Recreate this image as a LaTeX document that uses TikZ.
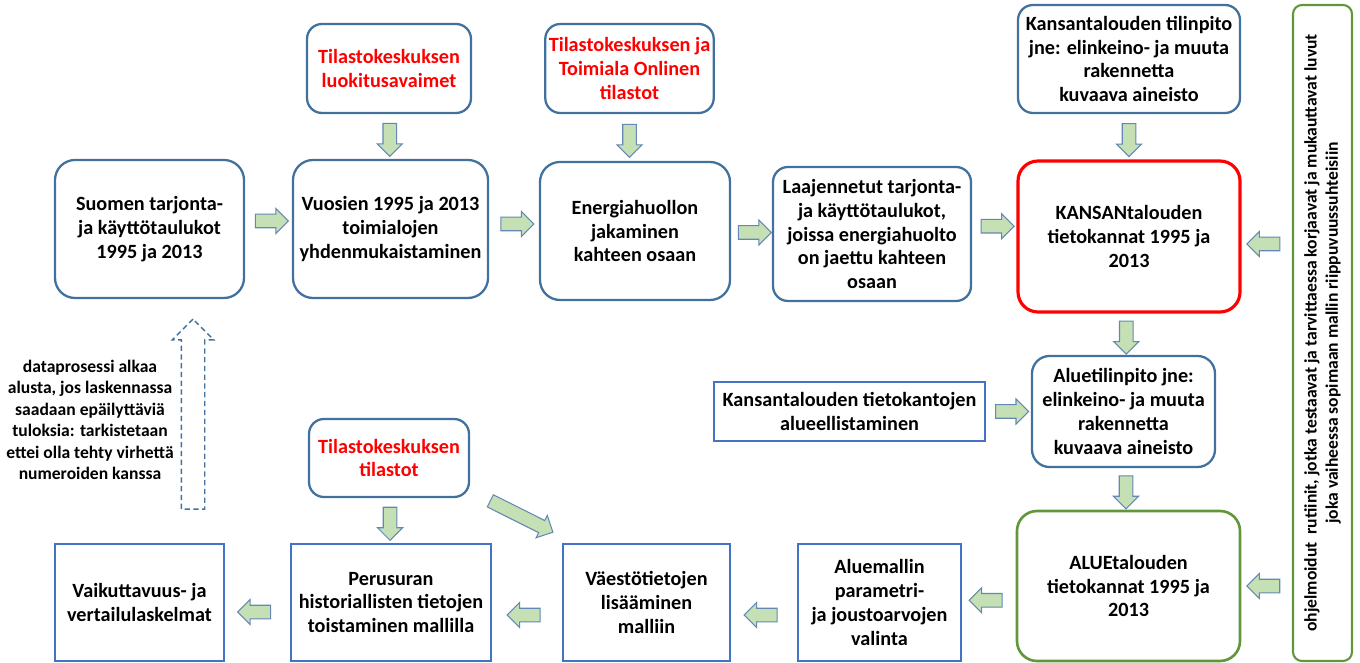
\documentclass[tikz,border=0pt]{standalone}
\usepackage{fontspec}
\setmainfont{Carlito}
\usepackage{tikz}
\usetikzlibrary{positioning, calc, shapes.arrows}
\definecolor{FlowBlue}{RGB}{65,113,156}
\definecolor{CalcBlue}{RGB}{68,114,196}
\definecolor{SrcRed}{RGB}{255,0,0}
\definecolor{RegGreen}{RGB}{98,150,58}
\definecolor{ArrFill}{RGB}{197,224,180}
\definecolor{ArrLine}{RGB}{100,135,180}

\begin{document}
\begin{tikzpicture}[
  every node/.style={font=\bfseries\fontsize{11.5}{13.6}\selectfont},
  flow/.style={draw=FlowBlue, line width=1.3pt, rounded corners=0.4cm, align=center, inner sep=2pt},
  source/.style={flow, rounded corners=0.3cm, text=SrcRed},
  calcbox/.style={draw=CalcBlue, line width=1.6pt, align=center, inner sep=2pt},
  blockarr/.style={single arrow, draw=ArrLine, fill=ArrFill, line width=0.6pt, inner xsep=0pt, inner ysep=0.125cm,
    single arrow head extend=0.115cm, single arrow head indent=0pt, minimum width=0.48cm, minimum height=0.66cm},
  rarr/.style={blockarr},
  larr/.style={blockarr, rotate=180},
  darr/.style={blockarr, rotate=-90}
]
\useasboundingbox (0,0) rectangle (27.2,-13.26);

% Top row: sources
\node[source, minimum width=3.28cm, minimum height=1.78cm] (luok) at (7.78,-1.37) {Tilastokeskuksen\\luokitusavaimet};
\node[source, minimum width=3.34cm, minimum height=1.78cm] (toim) at (12.59,-1.37) {Tilastokeskuksen ja\\Toimiala Onlinen\\tilastot};
\node[flow, rounded corners=0.3cm, minimum width=4.44cm, minimum height=2.16cm] (ktil) at (22.58,-1.18) {Kansantalouden tilinpito\\jne: elinkeino- ja muuta\\rakennetta\\kuvaava aineisto};

% Main row
\node[flow, minimum width=3.78cm, minimum height=2.76cm] (suomen) at (2.99,-4.58) {Suomen tarjonta-\\ja käyttötaulukot\\1995 ja 2013};
\node[flow, minimum width=3.90cm, minimum height=2.76cm] (vuosien) at (7.81,-4.58) {Vuosien 1995 ja 2013\\toimialojen\\yhdenmukaistaminen};
\node[flow, minimum width=3.80cm, minimum height=2.76cm] (energ) at (12.70,-4.62) {Energiahuollon\\jakaminen\\kahteen osaan};
\node[flow, rounded corners=0.3cm, minimum width=3.96cm, minimum height=2.68cm] (laaj) at (17.44,-4.68) {Laajennetut tarjonta-\\ja käyttötaulukot,\\joissa energiahuolto\\on jaettu kahteen\\osaan};
\node[flow, draw=SrcRed, line width=1.8pt, minimum width=4.44cm, minimum height=3.02cm] (kansan) at (22.58,-4.73) {KANSANtalouden\\tietokannat 1995 ja\\2013};

% Right column: checking routines
\node[draw=RegGreen, line width=1.2pt, rounded corners=0.18cm, rotate=90, align=center,
  minimum width=13.12cm, minimum height=1.18cm, font=\bfseries\fontsize{10}{12}\selectfont] (vert) at (26.45,-6.66)
  {ohjelmoidut\ \ rutiinit, jotka testaavat ja tarvittaessa korjaavat ja mukauttavat luvut\\joka vaiheessa sopimaan mallin riippuvuussuhteisiin};

% Regional part
\node[flow, rounded corners=0.35cm, minimum width=3.66cm, minimum height=2.22cm] (aluetil) at (22.47,-8.23) {Aluetilinpito jne:\\elinkeino- ja muuta\\rakennetta\\kuvaava aineisto};
\node[calcbox, minimum width=5.42cm, minimum height=1.18cm] (alueell) at (16.99,-8.23) {Kansantalouden tietokantojen\\alueellistaminen};
\node[flow, draw=RegGreen, line width=1.5pt, minimum width=4.46cm, minimum height=3.0cm] (alue) at (22.57,-11.72) {ALUEtalouden\\tietokannat 1995 ja\\2013};

% Bottom row
\node[calcbox, minimum width=3.26cm, minimum height=2.34cm] (aluemallin) at (17.59,-12.05) {Aluemallin\\parametri-\\ja joustoarvojen\\valinta};
\node[calcbox, minimum width=3.34cm, minimum height=2.34cm] (vaesto) at (12.93,-12.05) {Väestötietojen\\lisääminen\\malliin};
\node[calcbox, minimum width=4.00cm, minimum height=2.34cm] (perus) at (7.82,-12.05) {Perusuran\\historiallisten tietojen\\toistaminen mallilla};
\node[calcbox, minimum width=3.38cm, minimum height=2.34cm] (vaik) at (2.79,-12.05) {Vaikuttavuus- ja\\vertailulaskelmat};
\node[source, minimum width=3.20cm, minimum height=1.56cm] (tilastot) at (7.78,-9.16) {Tilastokeskuksen\\tilastot};

% Restart note
\node[single arrow, draw=FlowBlue, line width=0.8pt, dash pattern=on 3pt off 2pt, rotate=90, inner xsep=0pt, inner ysep=0.22cm,
  single arrow head extend=0.18cm, minimum width=0.8cm, minimum height=3.8cm] (restart) at (3.86,-8.40) {};
\node[align=center, font=\bfseries\fontsize{10}{12.2}\selectfont] (note) at (1.80,-8.40) {dataprosessi alkaa\\alusta, jos laskennassa\\saadaan epäilyttäviä\\tuloksia: tarkistetaan\\ettei olla tehty virhettä\\numeroiden kanssa};

% Block arrows
\node[rarr, yshift=0.16cm] (a1) at ($(suomen.east)!0.5!(vuosien.west)$) {};
\node[rarr, yshift=0.12cm] (a2) at ($(vuosien.east)!0.5!(energ.west)$) {};
\node[rarr] (a3) at ($(energ.east)!0.5!(laaj.west)$) {};
\node[rarr, yshift=0.18cm] (a4) at ($(laaj.east)!0.5!(kansan.west)$) {};
\node[larr, yshift=0.15cm] (a5) at ($(kansan.east)!0.5!(kansan.east -| vert.north)$) {};
\node[darr] (a6) at ($(luok.south)!0.5!(vuosien.north)$) {};
\node[darr] (a7) at ($(toim.south)!0.5!(toim.south |- energ.north)$) {};
\node[darr] (a8) at ($(ktil.south)!0.5!(kansan.north)$) {};
\node[darr] (a9) at ($(kansan.south)!0.5!(aluetil.north)$) {};
\node[darr] (a10) at ($(aluetil.south)!0.5!(alue.north)$) {};
\node[rarr] (a11) at ($(alueell.east)!0.5!(aluetil.west)$) {};
\node[larr] (a12) at ($(alue.east)!0.5!(alue.east -| vert.north)$) {};
\node[larr, yshift=0.12cm] (a13) at ($(alue.west)!0.5!(aluemallin.east)$) {};
\node[larr, yshift=0.25cm] (a14) at ($(aluemallin.west)!0.5!(vaesto.east)$) {};
\node[larr, yshift=0.25cm] (a15) at ($(vaesto.west)!0.5!(perus.east)$) {};
\node[larr, yshift=0.19cm] (a16) at ($(perus.west)!0.5!(vaik.east)$) {};
\node[darr] (a17) at ($(tilastot.south)!0.5!(perus.north)$) {};
\node[blockarr, rotate=-26.6, minimum height=1.4cm, yshift=0.12cm] (a18) at ($(tilastot.south east)!0.5!(vaesto.north west)$) {};

\end{tikzpicture}
\end{document}
